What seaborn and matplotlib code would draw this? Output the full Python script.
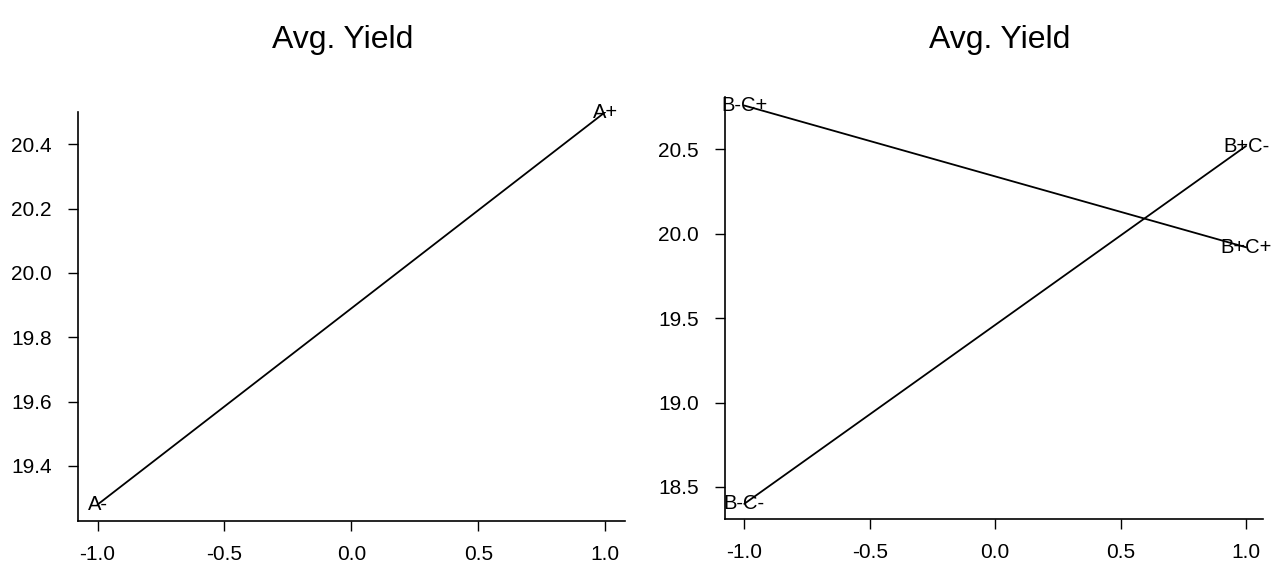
import pandas as pd
import seaborn as sns
import matplotlib
matplotlib.use("Agg")
import matplotlib.pyplot as plt

# data
levels = [-1.0, 1.0]

a_yield = [19.28, 20.50]
a_labels = ["A-", "A+"]

# B x C interaction, one line per level of C
c_minus_yield = [18.40, 20.52]
c_minus_labels = ["B-C-", "B+C-"]
c_plus_yield = [20.76, 19.92]
c_plus_labels = ["B-C+", "B+C+"]

left_yticks = [19.4, 19.6, 19.8, 20.0, 20.2, 20.4]
right_yticks = [18.5, 19.0, 19.5, 20.0, 20.5]
xticks = [-1.0, -0.5, 0.0, 0.5, 1.0]

#%% style
sns.set_style("ticks")
plt.rcParams['font.family'] = ['Liberation Sans', 'DejaVu Sans']
plt.rcParams['text.color'] = 'black'
plt.rcParams['xtick.color'] = 'black'
plt.rcParams['ytick.color'] = 'black'
plt.rcParams['axes.edgecolor'] = 'black'
plt.rcParams['xtick.major.size'] = 7
plt.rcParams['ytick.major.size'] = 7
plt.rcParams['xtick.major.pad'] = 10
plt.rcParams['ytick.major.pad'] = 12
plt.rcParams['xtick.major.width'] = 1.0
plt.rcParams['ytick.major.width'] = 1.0
plt.rcParams['axes.linewidth'] = 1.2

fig = plt.figure(figsize=(12.79, 5.71), dpi=100)
ax1 = fig.add_axes([0.061, 0.0876, 0.428, 0.716])
ax2 = fig.add_axes([0.567, 0.091, 0.4206, 0.739])

#%% left panel: main effect of A
df_a = pd.DataFrame({'x': levels, 'y': a_yield, 'label': a_labels})
sns.lineplot(data=df_a, x='x', y='y', color='black', linewidth=1.3, ax=ax1)
for _, row in df_a.iterrows():
    ax1.text(row['x'], row['y'], row['label'], ha='center', va='center', fontsize=14.5)

ax1.set_xlim(-1.077, 1.08)
ax1.set_ylim(19.229, 20.50)
ax1.set_yticks(left_yticks)
ax1.set_yticklabels([f"{v:.1f}" for v in left_yticks])

#%% right panel: B x C interaction
df_cm = pd.DataFrame({'x': levels, 'y': c_minus_yield, 'label': c_minus_labels})
df_cp = pd.DataFrame({'x': levels, 'y': c_plus_yield, 'label': c_plus_labels})
for d in [df_cm, df_cp]:
    sns.lineplot(data=d, x='x', y='y', color='black', linewidth=1.3, ax=ax2)
    for _, row in d.iterrows():
        ax2.text(row['x'], row['y'], row['label'], ha='center', va='center', fontsize=14.5)

ax2.set_xlim(-1.076, 1.068)
ax2.set_ylim(18.31, 20.81)
ax2.set_yticks(right_yticks)
ax2.set_yticklabels([f"{v:.1f}" for v in right_yticks])

for ax in [ax1, ax2]:
    ax.set_xticks(xticks)
    ax.set_xticklabels([f"{v:.1f}" for v in xticks])
    ax.tick_params(labelsize=15)
    ax.set_xlabel('')
    ax.set_ylabel('')
    sns.despine(ax=ax)

fig.text(0.268, 0.93, 'Avg. Yield', ha='center', va='center', fontsize=23)
fig.text(0.782, 0.93, 'Avg. Yield', ha='center', va='center', fontsize=23)

fig.savefig('out.png', dpi=100)
